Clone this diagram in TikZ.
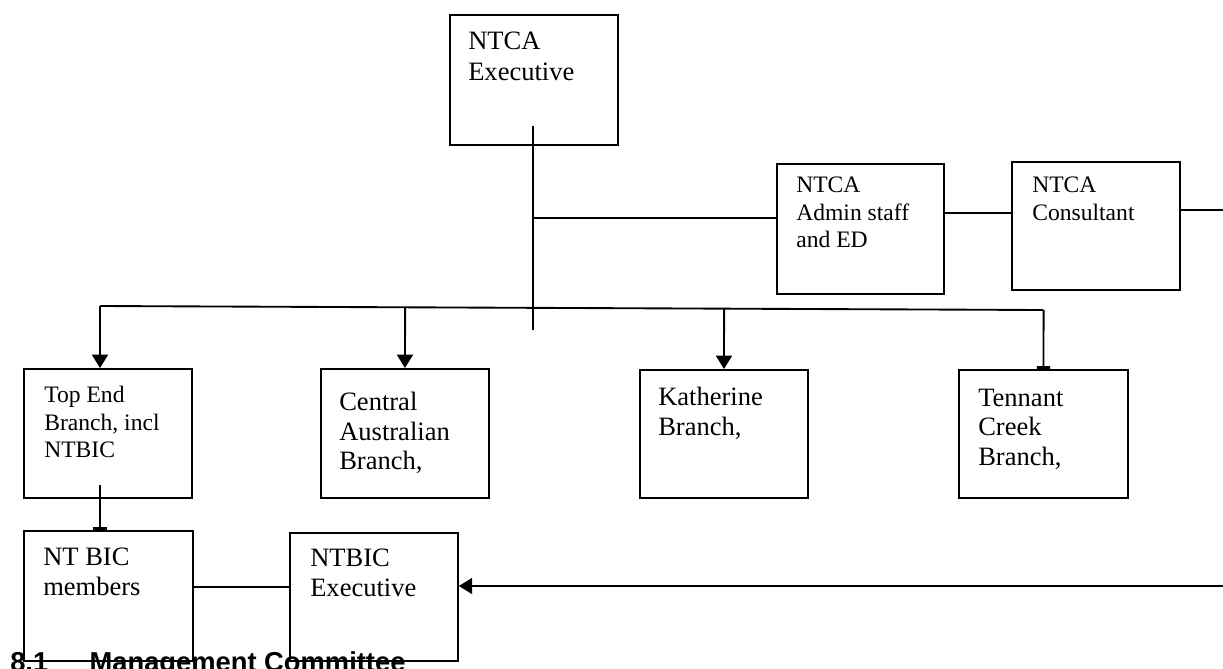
\documentclass[tikz,border=0pt]{standalone}
\usepackage{fontspec}
\setmainfont{Liberation Serif}
\newfontfamily\headfont{Liberation Sans}
\usetikzlibrary{arrows.meta,calc}
\begin{document}
\begin{tikzpicture}[x=0.75pt,y=-0.75pt,
  box/.style={draw, line width=1.4pt, inner sep=0pt, anchor=north west},
  bigtxt/.style={anchor=north west, inner sep=0pt, align=left, font=\fontsize{19.9}{22}\selectfont},
  smalltxt/.style={anchor=north west, inner sep=0pt, align=left, font=\fontsize{17.7}{20.6}\selectfont},
  conn/.style={line width=1.4pt},
  arr/.style={conn, -{Triangle[length=10pt,width=12pt]}},
  tbar/.style={conn, -{Bar[width=10pt,line width=2.2pt]}}
]
\useasboundingbox (0,0) rectangle (1223,668);
\clip (0,0) rectangle (1223,668);

% heading (partly cut off at the bottom, as in the reference)
\node[anchor=base west, inner sep=0pt, font=\headfont\bfseries\fontsize{20.5}{24}\selectfont] (head) at (10,671) {8.1\hspace{31pt}Management Committee};

% boxes
\node[box, minimum width=168*0.75pt, minimum height=130*0.75pt] (exec) at (449,14) {};
\node[box, minimum width=167*0.75pt, minimum height=130*0.75pt] (admin) at (776,163) {};
\node[box, minimum width=168*0.75pt, minimum height=128*0.75pt] (consult) at (1011,161) {};
\node[box, minimum width=168*0.75pt, minimum height=129*0.75pt] (topend) at (23,368) {};
\node[box, minimum width=168*0.75pt, minimum height=129*0.75pt] (central) at (320,368) {};
\node[box, minimum width=168*0.75pt, minimum height=128*0.75pt] (kath) at (639,369) {};
\node[box, minimum width=169*0.75pt, minimum height=128*0.75pt] (tenn) at (958,369) {};
\node[box, minimum width=169*0.75pt, minimum height=130*0.75pt] (members) at (23,530) {};
\node[box, minimum width=168*0.75pt, minimum height=128*0.75pt] (ntbicx) at (289,532) {};

% texts
\node[bigtxt, font=\fontsize{19.9}{23}\selectfont] (exect) at (468,32) {NTCA\\Executive};
\node[smalltxt] (admint) at (796,177) {NTCA\\Admin staff\\and ED};
\node[smalltxt] (consultt) at (1032,177) {NTCA\\Consultant};
\node[smalltxt] (topendt) at (44,386) {Top End\\Branch, incl\\NTBIC};
\node[bigtxt] (centralt) at (339,392) {Central\\Australian\\Branch,};
\node[bigtxt] (katht) at (658,387) {Katherine\\Branch,};
\node[bigtxt] (tennt) at (978,389) {Tennant\\Creek\\Branch,};
\node[bigtxt] (memberst) at (43,548) {NT BIC\\members};
\node[bigtxt] (ntbicxt) at (310,549) {NTBIC\\Executive};

% connector points
\coordinate (evtop) at (533,126);
\coordinate (evbot) at (533,330);
\coordinate (j1) at (533,218);
\coordinate (ac) at (975,213);
\coordinate (redge1) at (1223,210);
\coordinate (hl) at (100,306);
\coordinate (hr) at (1043,310);
\coordinate (tv) at (100,485);
\coordinate (mj) at (240,587);
\coordinate (redge2) at (1223,586);

% connectors
\draw[conn] (evtop) -- (evbot);
\draw[conn] (j1) -- (j1 -| admin.west);
\draw[conn] (ac -| admin.east) -- (ac -| consult.west);
\draw[conn] (redge1 -| consult.east) -- (redge1);
\draw[conn] (hl) -- (hr);
\draw[arr] (hl) -- (hl |- topend.north);
\draw[arr] ($(hl)!(central.north)!(hr)$) -- (central.north);
\draw[arr] ($(hl)!(kath.north)!(hr)$) -- (kath.north);
\draw[tbar] ($(hl)!(tenn.north)!(hr)$) -- (tenn.north);
\draw[tbar] (tv) -- (tv |- members.north);
\draw[conn] (mj -| members.east) -- (mj -| ntbicx.west);
\draw[arr] (redge2) -- (redge2 -| ntbicx.east);
\end{tikzpicture}
\end{document}
